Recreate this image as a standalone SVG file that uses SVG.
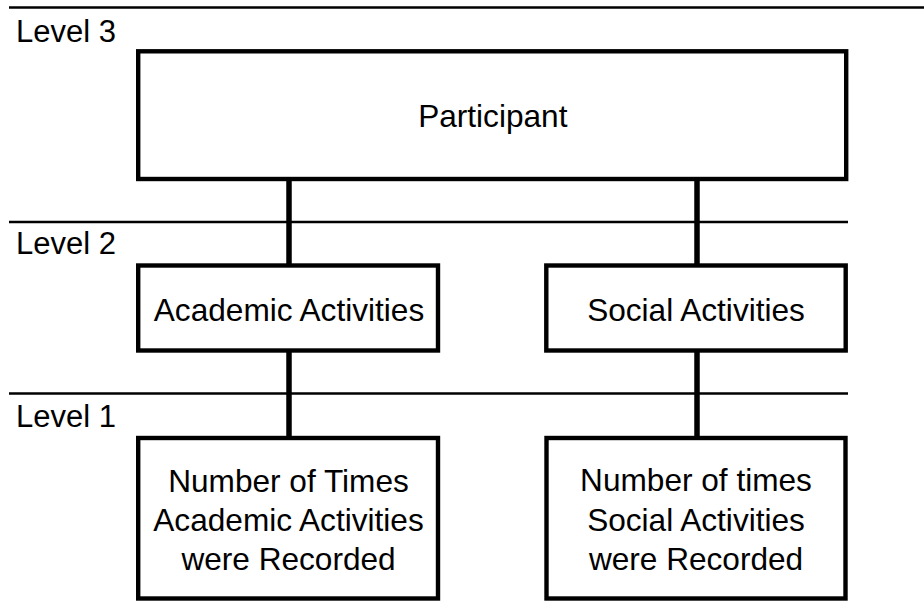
<svg xmlns="http://www.w3.org/2000/svg" width="924" height="601" viewBox="0 0 924 601">
  <style>
    .band { stroke: #000; stroke-width: 2.5; fill: none; }
    .box { fill: #fff; stroke: #000; stroke-width: 4.4; }
    .link { stroke: #000; stroke-width: 5.5; fill: none; }
    text { font-family: "Liberation Sans", Arial, sans-serif; font-size: 31.6px; fill: #000; }
    .lvl { font-size: 31px; }
    .mid { text-anchor: middle; }
  </style>
  <rect width="924" height="601" fill="#fff"/>

  <!-- level bands -->
  <g id="levels">
    <line class="band" x1="9" y1="7.5" x2="924" y2="7.5"/>
    <line class="band" x1="9" y1="222" x2="848" y2="222"/>
    <line class="band" x1="9" y1="393.5" x2="848" y2="393.5"/>
    <text class="lvl" x="16" y="41.7">Level 3</text>
    <text class="lvl" x="16" y="254">Level 2</text>
    <text class="lvl" x="16" y="427">Level 1</text>
  </g>

  <!-- connectors -->
  <g id="connectors">
    <line class="link" x1="289" y1="181" x2="289" y2="265"/>
    <line class="link" x1="697" y1="181" x2="697" y2="265"/>
    <line class="link" x1="289" y1="352" x2="289" y2="437"/>
    <line class="link" x1="697" y1="352" x2="697" y2="437"/>
  </g>

  <g id="participant">
    <rect class="box" x="138.2" y="51.3" width="708" height="127.7"/>
    <text class="mid" x="492.8" y="126.7">Participant</text>
  </g>

  <g id="academic">
    <rect class="box" x="138.2" y="265.5" width="299.8" height="85"/>
    <text class="mid" x="289" y="320.5">Academic Activities</text>
  </g>

  <g id="social">
    <rect class="box" x="546.3" y="265.5" width="299.4" height="85"/>
    <text class="mid" x="696" y="320.5">Social Activities</text>
  </g>

  <g id="academic-count">
    <rect class="box" x="138.2" y="438" width="299.8" height="160.5"/>
    <text class="mid" x="288.5" y="491.5">Number of Times</text>
    <text class="mid" x="288.5" y="530.7">Academic Activities</text>
    <text class="mid" x="288.5" y="570">were Recorded</text>
  </g>

  <g id="social-count">
    <rect class="box" x="546.5" y="438" width="299" height="160.5"/>
    <text class="mid" x="696" y="491">Number of times</text>
    <text class="mid" x="696" y="530.5">Social Activities</text>
    <text class="mid" x="696" y="570">were Recorded</text>
  </g>
</svg>
